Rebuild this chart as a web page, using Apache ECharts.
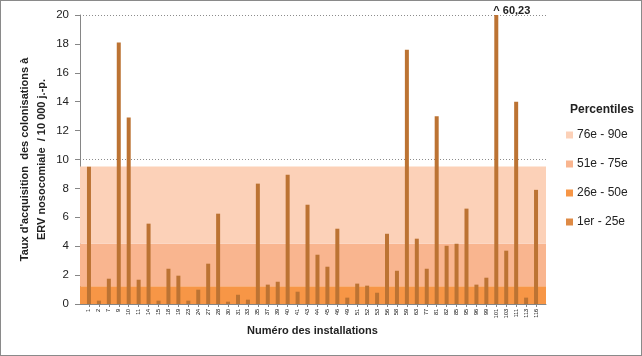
<!DOCTYPE html>
<html><head><meta charset="utf-8">
<script src="https://cdn.jsdelivr.net/npm/echarts@6/dist/echarts.min.js"></script>
<style>
html,body{margin:0;padding:0;background:#fff;}
#wrap{width:642px;height:356px;box-sizing:border-box;border:1px solid #8a8a8a;}
#c{width:640px;height:354px;}
</style></head>
<body><div id="wrap"><div id="c"></div></div>
<script>
// Installation numbers (x categories)
const categories = ['1','2','7','9','10','11','14','15','18','19','23','24','27','28','30','31','33','35','37','39','40','41','43','44','45','46','49','51','52','53','56','58','59','63','77','81','82','85','95','96','99','101','103','111','113','116'];
// Acquisition rate per 10 000 patient-days
const rates = [9.5,0.23,1.75,18.1,12.9,1.68,5.56,0.23,2.44,1.96,0.23,0.99,2.79,6.25,0.16,0.64,0.30,8.33,1.34,1.54,8.95,0.85,6.87,3.41,2.58,5.21,0.44,1.41,1.27,0.78,4.86,2.3,17.6,4.52,2.44,13.0,4.03,4.17,6.6,1.34,1.82,60.23,3.69,14.0,0.44,7.9];
// Percentile bands (upper bounds)
const bandNames = ['1er - 25e','26e - 50e','51e - 75e','76e - 90e'];
const bandUpper = [0, 1.22, 4.17, 9.52];
// Y axis ticks
const yMin = 0, yMax = 20, yStep = 2, gridStep = 10;

const bandColors = ['#DE8A45','#F79646','#F9B58F','#FCD1B8'];
const barColor = '#BC7333';
const axisGray = '#868686';
const font = '"Liberation Sans", Arial, sans-serif';

const bandSeries = bandNames.map((name, i) => ({
  name: name,
  type: 'bar',
  xAxisIndex: 0, yAxisIndex: 0,
  data: [],
  z: 1,
  itemStyle: {color: bandColors[i]},
  markArea: {
    silent: true,
    itemStyle: {color: bandColors[i]},
    data: [[{yAxis: i === 0 ? 0 : bandUpper[i-1]}, {yAxis: bandUpper[i]}]]
  }
}));

const clipIdx = rates.findIndex(v => v > yMax);

const chart = echarts.init(document.getElementById('c'), null, {renderer:'canvas'});
chart.setOption({
  animation: false,
  textStyle: {fontFamily: font},
  title: {
    text: 'Percentiles', left: 564, top: 98,
    textStyle: {fontFamily: font, fontWeight: 'bold', fontSize: 12, color: '#222'}
  },
  legend: {
    data: bandNames.slice().reverse(),
    orient: 'vertical', left: 560, top: 123,
    icon: 'rect', itemWidth: 7, itemHeight: 7, itemGap: 17,
    textStyle: {fontFamily: font, fontSize: 12, color: '#222', padding: [0,0,0,-1]},
    selectedMode: false
  },
  grid: [
    {left: 79, right: 95, top: 14, bottom: 51},
    {left: 83, right: 100, top: 14, bottom: 51}
  ],
  xAxis: [
    {gridIndex: 0, type: 'value', min: 0, max: 1, show: true,
     axisLine: {show: true, lineStyle: {color: axisGray}},
     axisTick: {show: false}, axisLabel: {show: false}, splitLine: {show: false}},
    {gridIndex: 1, type: 'category', data: categories,
     axisLine: {show: false},
     axisTick: {show: true, alignWithLabel: true, length: 3, lineStyle: {color: axisGray}},
     axisLabel: {interval: 0, rotate: 90, fontSize: 5.5, color: '#000', margin: 5},
     name: 'Numéro des installations', nameLocation: 'middle', nameGap: 21, nameMoveOverlap: false,
     nameTextStyle: {fontFamily: font, fontWeight: 'bold', fontSize: 11, color: '#222'}}
  ],
  yAxis: [
    {gridIndex: 0, type: 'value', min: yMin, max: yMax, interval: yStep,
     axisLine: {show: true, lineStyle: {color: axisGray}},
     axisTick: {show: true, length: 5, lineStyle: {color: axisGray}},
     axisLabel: {fontSize: 11.5, color: '#222', margin: 11},
     splitLine: {show: false},
     name: "Taux d'acquisition  des colonisations à\nERV nosocomiale  / 10 000 j.-p.",
     nameLocation: 'middle', nameGap: 30, nameRotate: 90, nameMoveOverlap: false,
     nameTextStyle: {fontFamily: font, fontWeight: 'bold', fontSize: 11, color: '#222', lineHeight: 17, align: 'center'}},
    {gridIndex: 0, type: 'value', min: yMin, max: yMax, interval: gridStep, position: 'left',
     axisLine: {show: false}, axisTick: {show: false}, axisLabel: {show: false},
     splitLine: {show: true, lineStyle: {color: '#8c8c8c', type: [1, 2], width: 1}}},
    {gridIndex: 1, type: 'value', min: yMin, max: yMax, show: false, splitLine: {show: false}}
  ],
  series: bandSeries.concat([{
    name: 'Taux', type: 'bar', xAxisIndex: 1, yAxisIndex: 2,
    data: rates, barWidth: 4, z: 5, clip: true,
    itemStyle: {color: barColor},
    markPoint: {
      silent: true, symbol: 'circle', symbolSize: 0,
      data: [{coord: [categories[clipIdx], yMax], value: rates[clipIdx]}],
      label: {show: true, position: [-3, -4], align: 'left', verticalAlign: 'middle',
        formatter: p => '^ ' + String(p.value).replace('.', ','),
        fontFamily: font, fontWeight: 'bold', fontSize: 11, color: '#222'}
    }
  }])
});
</script></body></html>
